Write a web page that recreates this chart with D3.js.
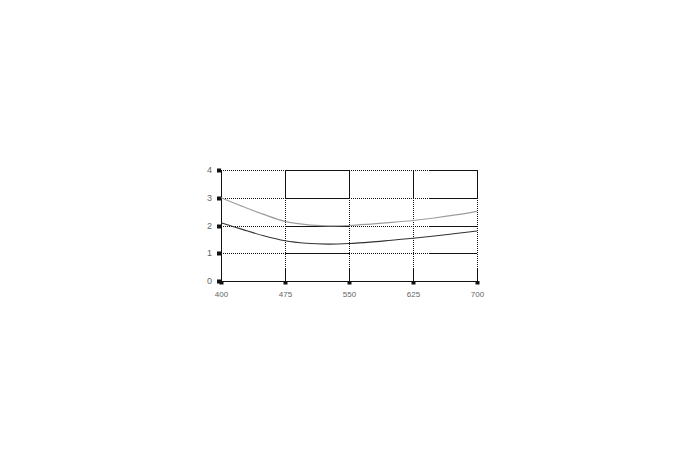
<!DOCTYPE html>
<html>
<head>
<meta charset="utf-8">
<script src="https://cdn.jsdelivr.net/npm/d3@7/dist/d3.min.js"></script>
<style>
  html, body { margin: 0; padding: 0; background: #fff; }
  svg { display: block; }
  text { font-family: "Liberation Sans", Arial, sans-serif; font-size: 8.5px; fill: #666; }
</style>
</head>
<body>
<svg id="chart" width="690" height="460"></svg>
<script>
// ---- data ----
const wavelengths = [400, 425, 450, 475, 500, 525, 550, 575, 600, 625, 650, 675, 700];
const upperSeries = [3.00, 2.69, 2.40, 2.15, 2.03, 1.99, 2.00, 2.05, 2.11, 2.18, 2.27, 2.38, 2.51];
const lowerSeries = [2.10, 1.86, 1.63, 1.45, 1.36, 1.33, 1.35, 1.40, 1.47, 1.54, 1.62, 1.71, 1.80];
const xTicks = [400, 475, 550, 625, 700];
const yTicks = [0, 1, 2, 3, 4];

// ---- layout ----
const margin = { left: 221, top: 170 };
const W = 256, H = 111;
const svg = d3.select("#chart");
const g = svg.append("g").attr("transform", `translate(${margin.left},${margin.top})`);

const x = d3.scaleLinear().domain([400, 700]).range([0, W]);
const y = d3.scaleLinear().domain([0, 4]).range([H, 0]);
const px = v => Math.round(v) + 0.5;

// dash pattern builder: segments of dotted / solid
function dash(segs) {
  const arr = [];
  segs.forEach(([kind, len]) => {
    if (kind === "dot") { for (let i = 0; i < len; i += 2) arr.push(1, 1); }
    else arr.push(len, 0);
  });
  return arr.join(" ");
}
const hDash = dash([["dot", 64], ["solid", 64], ["dot", 79], ["solid", 49]]);
const vDash = dash([["solid", 28], ["dot", 70], ["solid", 14]]);

// horizontal grid lines
g.selectAll("line.hgrid").data(yTicks.filter(d => d > 0)).join("line")
  .attr("class", "hgrid")
  .attr("x1", 0).attr("x2", W)
  .attr("y1", d => px(y(d))).attr("y2", d => px(y(d)))
  .attr("stroke", "#111").attr("stroke-width", 1)
  .attr("stroke-dasharray", hDash)
  .attr("shape-rendering", "crispEdges");

// vertical grid lines
g.selectAll("line.vgrid").data(xTicks.filter(d => d > 400)).join("line")
  .attr("class", "vgrid")
  .attr("x1", d => px(x(d))).attr("x2", d => px(x(d)))
  .attr("y1", 0).attr("y2", H)
  .attr("stroke", "#111").attr("stroke-width", 1)
  .attr("stroke-dasharray", vDash)
  .attr("shape-rendering", "crispEdges");

// axes lines
g.append("line").attr("x1", px(0)).attr("x2", px(0)).attr("y1", 0).attr("y2", H + 1)
  .attr("stroke", "#111").attr("shape-rendering", "crispEdges");
g.append("line").attr("x1", 0).attr("x2", W + 1).attr("y1", px(H)).attr("y2", px(H))
  .attr("stroke", "#111").attr("shape-rendering", "crispEdges");

// curves
const line = d3.line().x((d, i) => x(wavelengths[i])).y(d => y(d)).curve(d3.curveCatmullRom);
g.append("path").datum(upperSeries).attr("d", line)
  .attr("fill", "none").attr("stroke", "#9e9e9e").attr("stroke-width", 1.2);
g.append("path").datum(lowerSeries).attr("d", line)
  .attr("fill", "none").attr("stroke", "#333").attr("stroke-width", 1.1);

// tick squares
g.selectAll("rect.ytick").data(yTicks).join("rect")
  .attr("class", "ytick")
  .attr("x", -4).attr("y", d => Math.round(y(d)) - 1.5)
  .attr("width", 4).attr("height", 4).attr("fill", "#111");
g.selectAll("rect.xtick").data(xTicks).join("rect")
  .attr("class", "xtick")
  .attr("x", d => Math.round(x(d)) - 1.5).attr("y", H)
  .attr("width", 4).attr("height", 3.5).attr("fill", "#111");

// tick labels via d3 axes
const yAxis = d3.axisLeft(y).tickValues(yTicks).tickSize(0).tickPadding(9).tickFormat(d3.format("d"));
const ya = g.append("g").call(yAxis);
ya.select(".domain").remove();
ya.selectAll("text").style("font-size", "9px").attr("dy", "0.3em");

const xAxis = d3.axisBottom(x).tickValues(xTicks).tickSize(0).tickPadding(10).tickFormat(d3.format("d"));
const xa = g.append("g").attr("transform", `translate(0,${H})`).call(xAxis);
xa.select(".domain").remove();
xa.selectAll("text").style("font-size", "8px");
</script>
</body>
</html>
